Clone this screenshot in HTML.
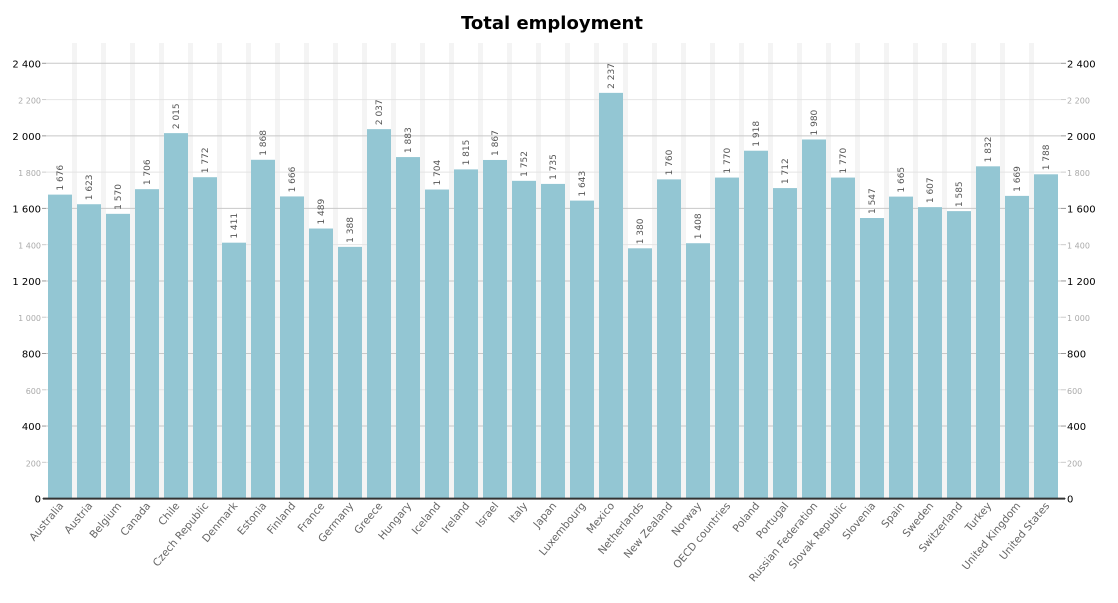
<!DOCTYPE html>
<html><head><meta charset="utf-8"><style>
body{margin:0;background:#fff;}
svg{display:block;font-family:"DejaVu Sans","Liberation Sans",sans-serif;}
</style></head><body>
<svg id="chart" width="1118" height="603" viewBox="0 0 1118 603">
<text x="552" y="29" text-anchor="middle" font-size="18" font-weight="bold" fill="#000">Total employment</text>
<g id="stripes"></g><g id="grid"></g><g id="bars"></g><g id="axes"></g>
</svg>
<script>
const categories = ["Australia","Austria","Belgium","Canada","Chile","Czech Republic","Denmark","Estonia","Finland","France","Germany","Greece","Hungary","Iceland","Ireland","Israel","Italy","Japan","Luxembourg","Mexico","Netherlands","New Zealand","Norway","OECD countries","Poland","Portugal","Russian Federation","Slovak Republic","Slovenia","Spain","Sweden","Switzerland","Turkey","United Kingdom","United States"];
const values = [1676,1623,1570,1706,2015,1772,1411,1868,1666,1489,1388,2037,1883,1704,1815,1867,1752,1735,1643,2237,1380,1760,1408,1770,1918,1712,1980,1770,1547,1665,1607,1585,1832,1669,1788];
const yTicks = [0,200,400,600,800,1000,1200,1400,1600,1800,2000,2200,2400];
const yTickLabels = ["0","200","400","600","800","1 000","1 200","1 400","1 600","1 800","2 000","2 200","2 400"];
const NS="http://www.w3.org/2000/svg";
const y0=498.6, yTop=63.3, yMax=2400;
const left=46, right=1061, bandStart=46, step=29, barW=24;
function y(v){return y0-(v/yMax)*(y0-yTop);}
function xc(i){return bandStart+step*i+14;}
function el(tag,attrs,parent,txt){const e=document.createElementNS(NS,tag);for(const k in attrs)e.setAttribute(k,attrs[k]);if(txt!==undefined)e.textContent=txt;parent.appendChild(e);return e;}
const gS=document.getElementById('stripes'),gG=document.getElementById('grid'),gB=document.getElementById('bars'),gA=document.getElementById('axes');
function fmt(v){return String(v).replace(/\B(?=(\d{3})+(?!\d))/g," ");}
for(let i=0;i<categories.length-1;i++){
  const s=el('rect',{x:xc(i)+12,y:43,width:5,height:y0-43,fill:'#f4f4f4'},gS);
  
  
}
yTicks.forEach((t,k)=>{
  const major=(t%400===0);
  const yy=y(t);
  if(t>0){
    const l=el('line',{x1:left,x2:right,y1:yy,y2:yy,stroke:major?'#c8c8c8':'#e4e4e4','stroke-width':1},gG);
    
    
  }
  el('line',{x1:42,x2:46,y1:yy,y2:yy,stroke:major?'#999':'#ccc'},gG);
  el('line',{x1:right,x2:right+5,y1:yy,y2:yy,stroke:major?'#999':'#ccc'},gG);
  const a=el('text',{x:41,y:yy+4,'text-anchor':'end','font-size':major?10:8,fill:major?'#000':'#aaa'},gA,yTickLabels[k]);
  
  
  const b=el('text',{x:right+6,y:yy+4,'text-anchor':'start','font-size':major?10:8,fill:major?'#000':'#aaa'},gA,yTickLabels[k]);
  
  
});
categories.forEach((c,i)=>{
  const v=values[i],cx=xc(i);
  const r=el('rect',{x:cx-barW/2,y:y(v),width:barW,height:y0-y(v),fill:'#93c6d3'},gB);
  
  
  const tv=el('text',{transform:`translate(${cx+3},${y(v)-4}) rotate(-90)`,'font-size':9,fill:'#555'},gB,fmt(v));
  
  
  const tc=el('text',{transform:`translate(${cx+4},${506}) rotate(-50)`,'text-anchor':'end','font-size':10.5,fill:'#666'},gA,c);
  
  
});
const ax=el('line',{x1:43,x2:right+4,y1:y0,y2:y0,stroke:'#333','stroke-width':2},gA);


</script>
</body></html>
